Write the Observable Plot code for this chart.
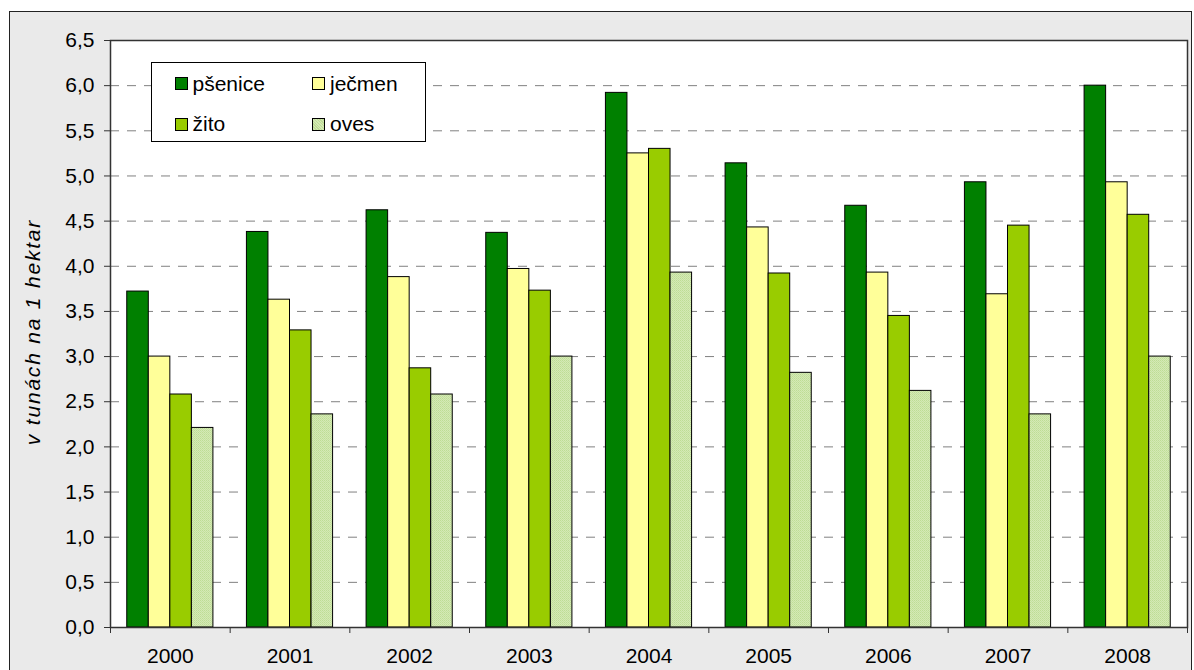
<!DOCTYPE html>
<html>
<head>
<meta charset="utf-8">
<script src="https://cdn.jsdelivr.net/npm/d3@7"></script>
<script src="https://cdn.jsdelivr.net/npm/@observablehq/plot@0.6"></script>
<style>
  html, body { margin: 0; padding: 0; background: #fff; }
  #wrap { position: relative; width: 1194px; height: 670px; overflow: hidden; font-family: "Liberation Sans", Arial, sans-serif; }
  #bg { position: absolute; left: 9px; top: 11px; width: 1183px; height: 700px; background: #eaeaea; border: 1px solid #222; box-sizing: border-box; }
  #chart { position: absolute; left: 0; top: 0; }
  #ytitle { position: absolute; left: 33px; top: 332px; transform: translate(-50%, -50%) rotate(-90deg); white-space: nowrap; font-style: italic; font-size: 21px; letter-spacing: 1.8px; color: #000; }
  #legend { position: absolute; left: 150.5px; top: 62px; width: 275px; height: 80px; background: #fff; border: 1px solid #000; box-sizing: border-box; }
  .item { position: absolute; height: 24px; display: flex; align-items: center; font-size: 21px; color: #000; }
  .sw { width: 13px; height: 13px; border: 1px solid #000; box-sizing: border-box; margin-right: 5px; }
</style>
</head>
<body>
<div id="wrap">
  <div id="bg"></div>
  <div id="chart"></div>
  <div id="ytitle">v tunách na 1 hektar</div>
  <div id="legend"></div>
</div>
<script>
const years = ["2000", "2001", "2002", "2003", "2004", "2005", "2006", "2007", "2008"];
const crops = ["pšenice", "ječmen", "žito", "oves"];
const psenice = [3.72, 4.38, 4.62, 4.37, 5.92, 5.14, 4.67, 4.93, 6.00];
const jecmen  = [3.00, 3.63, 3.88, 3.97, 5.25, 4.43, 3.93, 3.69, 4.93];
const zito    = [2.58, 3.29, 2.87, 3.73, 5.30, 3.92, 3.45, 4.45, 4.57];
const oves    = [2.21, 2.36, 2.58, 3.00, 3.93, 2.82, 2.62, 2.36, 3.00];
const yTicks  = [0, 0.5, 1, 1.5, 2, 2.5, 3, 3.5, 4, 4.5, 5, 5.5, 6, 6.5];

const series = [psenice, jecmen, zito, oves];
const rows = [];
years.forEach((year, yi) => {
  crops.forEach((crop, ci) => {
    rows.push({year, yi, crop, ci, value: series[ci][yi]});
  });
});

const colors = ["#008000", "#ffff99", "#99cc00", "url(#ovesPattern)"];
const barW = 0.18;
const barStart = 0.5 - 2 * barW;

const svg = Plot.plot({
  width: 1194,
  height: 670,
  marginLeft: 110,
  marginRight: 7,
  marginTop: 40,
  marginBottom: 43,
  style: { background: "transparent", fontFamily: "'Liberation Sans', Arial, sans-serif", fontSize: "21px", color: "#000", overflow: "visible" },
  x: { type: "linear", domain: [0, years.length], axis: null },
  y: { domain: [0, 6.5], axis: null },
  color: { domain: crops, range: colors },
  marks: [
    Plot.frame({ fill: "white" }),
    Plot.gridY(yTicks.slice(1, -1), { stroke: "#808080", strokeOpacity: 1, strokeDasharray: "9,8" }),
    Plot.rectY(rows, {
      x1: d => d.yi + barStart + d.ci * barW,
      x2: d => d.yi + barStart + (d.ci + 1) * barW,
      y1: 0,
      y2: "value",
      fill: "crop",
      stroke: "#000",
      strokeWidth: 1
    }),
    Plot.frame({ stroke: "#333", strokeWidth: 1.5 }),
    Plot.axisY(yTicks, { tickSize: 6, tickPadding: 10, stroke: "#333", tickFormat: d => d.toFixed(1).replace(".", ","), label: null }),
    Plot.axisX(d3.range(years.length + 1), { tickSize: 6, stroke: "#333", tickFormat: () => "", label: null }),
    Plot.axisX(years.map((y, i) => i + 0.5), { tickSize: 0, tickPadding: 21, tickFormat: d => years[Math.floor(d)], label: null })
  ]
});

// fine hatch pattern for "oves"
const ns = "http://www.w3.org/2000/svg";
const defs = document.createElementNS(ns, "defs");
defs.innerHTML = `<pattern id="ovesPattern" patternUnits="userSpaceOnUse" width="2" height="2">
  <rect width="2" height="2" fill="#d4eab4"></rect>
  <rect width="1" height="1" fill="#bedc96"></rect>
  <rect x="1" y="1" width="1" height="1" fill="#c6e0a2"></rect>
</pattern>`;
svg.insertBefore(defs, svg.firstChild);
document.getElementById("chart").appendChild(svg);

// legend
const legend = document.getElementById("legend");
const pos = [[23, 8.5], [160.5, 8.5], [23, 49], [160.5, 49]];
crops.forEach((c, i) => {
  const it = document.createElement("div");
  it.className = "item";
  it.style.left = pos[i][0] + "px";
  it.style.top = pos[i][1] + "px";
  const sw = document.createElement("div");
  sw.className = "sw";
  if (i === 3) sw.style.background = "repeating-linear-gradient(45deg, #bedc96 0 1px, #d4eab4 1px 2px)";
  else sw.style.background = colors[i];
  const t = document.createElement("span");
  t.textContent = c;
  it.appendChild(sw);
  it.appendChild(t);
  legend.appendChild(it);
});
</script>
</body>
</html>
